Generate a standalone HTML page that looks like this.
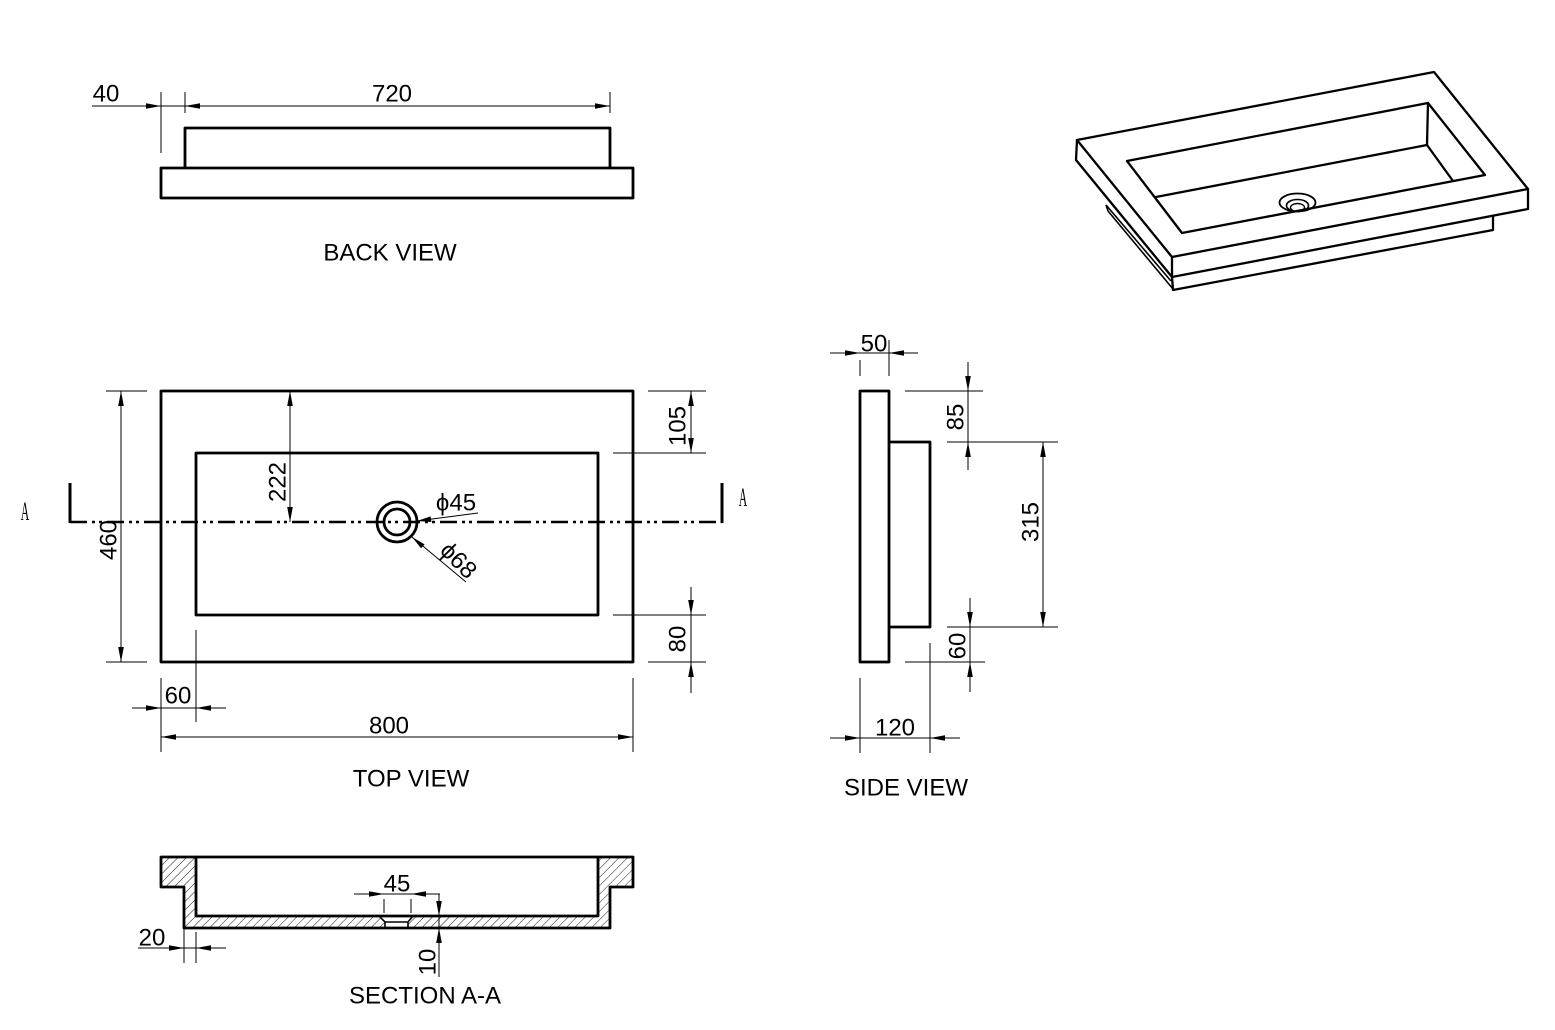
<!DOCTYPE html>
<html>
<head>
<meta charset="utf-8">
<style>
html,body{margin:0;padding:0;background:#fff;}
svg{display:block;}
text{font-family:"Liberation Sans",Arial,sans-serif;fill:#000;}
.t{font-size:24px;}
.k{stroke:#000;stroke-width:2.8;fill:none;stroke-linejoin:round;}
.n{stroke:#000;stroke-width:1;fill:none;}
.i{stroke:#000;stroke-width:2.3;fill:none;stroke-linejoin:round;stroke-linecap:round;}
.a{fill:#000;stroke:none;}
</style>
</head>
<body>
<svg width="1555" height="1030" viewBox="0 0 1555 1030" xmlns="http://www.w3.org/2000/svg">
<defs>
<pattern id="h" patternUnits="userSpaceOnUse" width="6" height="6" patternTransform="rotate(45)">
<line x1="0" y1="0" x2="0" y2="6" stroke="#000" stroke-width="0.9"/>
</pattern>
</defs>
<rect width="1555" height="1030" fill="#fff"/>

<!-- ===== BACK VIEW ===== -->
<path class="k" d="M185 168 V128 H610 V168"/>
<rect class="k" x="161" y="168" width="472" height="30"/>
<line class="n" x1="161" y1="92" x2="161" y2="153"/>
<line class="n" x1="185" y1="92" x2="185" y2="113"/>
<line class="n" x1="610" y1="92" x2="610" y2="113"/>
<line class="n" x1="92" y1="106" x2="610" y2="106"/>
<polygon class="a" points="161,106 146,103.2 146,108.8"/>
<polygon class="a" points="185,106 200,103.2 200,108.8"/>
<polygon class="a" points="610,106 595,103.2 595,108.8"/>
<text class="t" x="106" y="101.5" text-anchor="middle">40</text>
<text class="t" x="392" y="101.5" text-anchor="middle">720</text>
<text class="t" x="390" y="260.5" text-anchor="middle">BACK VIEW</text>

<!-- ===== TOP VIEW ===== -->
<rect class="k" x="161" y="391" width="472" height="271"/>
<rect class="k" x="196" y="453" width="402" height="162"/>
<line x1="70" y1="522" x2="722" y2="522" stroke="#000" stroke-width="2.5" stroke-dasharray="17 5 3 4 3 5"/>
<line x1="70" y1="483" x2="70" y2="523" stroke="#000" stroke-width="3"/>
<line x1="722" y1="483" x2="722" y2="523" stroke="#000" stroke-width="3"/>
<circle class="k" cx="397" cy="522" r="20"/>
<circle class="k" cx="397" cy="522" r="13"/>
<text transform="translate(25,520) scale(0.45 1)" text-anchor="middle" style="font-family:'Liberation Serif',serif;font-size:26px;">A</text>
<text transform="translate(743,506) scale(0.45 1)" text-anchor="middle" style="font-family:'Liberation Serif',serif;font-size:26px;">A</text>

<!-- 460 -->
<line class="n" x1="106" y1="391" x2="147" y2="391"/>
<line class="n" x1="106" y1="662" x2="147" y2="662"/>
<line class="n" x1="121" y1="391" x2="121" y2="662"/>
<polygon class="a" points="121,391 118.2,406 123.8,406"/>
<polygon class="a" points="121,662 118.2,647 123.8,647"/>
<text class="t" x="116.5" y="540" text-anchor="middle" transform="rotate(-90 116.5 540)">460</text>
<!-- 222 -->
<line class="n" x1="290" y1="391" x2="290" y2="522"/>
<polygon class="a" points="290,391 287.2,406 292.8,406"/>
<polygon class="a" points="290,522 287.2,507 292.8,507"/>
<text class="t" x="285.5" y="482" text-anchor="middle" transform="rotate(-90 285.5 482)">222</text>
<!-- 105 -->
<line class="n" x1="648" y1="391" x2="706" y2="391"/>
<line class="n" x1="613" y1="453" x2="706" y2="453"/>
<line class="n" x1="691" y1="391" x2="691" y2="453"/>
<polygon class="a" points="691,391 688.2,406 693.8,406"/>
<polygon class="a" points="691,453 688.2,438 693.8,438"/>
<text class="t" x="685.5" y="426" text-anchor="middle" transform="rotate(-90 685.5 426)">105</text>
<!-- 80 -->
<line class="n" x1="613" y1="615" x2="706" y2="615"/>
<line class="n" x1="648" y1="662" x2="706" y2="662"/>
<line class="n" x1="691" y1="587" x2="691" y2="693"/>
<polygon class="a" points="691,615 688.2,600 693.8,600"/>
<polygon class="a" points="691,662 688.2,677 693.8,677"/>
<text class="t" x="685.5" y="639" text-anchor="middle" transform="rotate(-90 685.5 639)">80</text>
<!-- phi45 -->
<line class="n" x1="478" y1="513" x2="417" y2="521"/>
<polygon class="a" points="417,521 431.4,522 430.6,516.4"/>
<text class="t" x="456" y="510.5" text-anchor="middle">ϕ45</text>
<!-- phi68 -->
<line class="n" x1="466" y1="582" x2="412" y2="537"/>
<polygon class="a" points="412,537 424.6,544.4 421.0,548.3"/>
<text class="t" x="453" y="566" text-anchor="middle" transform="rotate(45 453 566)">ϕ68</text>
<!-- 60 -->
<line class="n" x1="196" y1="630" x2="196" y2="722"/>
<line class="n" x1="161" y1="678" x2="161" y2="752"/>
<line class="n" x1="132" y1="708" x2="226" y2="708"/>
<polygon class="a" points="161,708 146,705.2 146,710.8"/>
<polygon class="a" points="196,708 211,705.2 211,710.8"/>
<text class="t" x="178" y="703.5" text-anchor="middle">60</text>
<!-- 800 -->
<line class="n" x1="633" y1="678" x2="633" y2="752"/>
<line class="n" x1="161" y1="737" x2="633" y2="737"/>
<polygon class="a" points="161,737 176,734.2 176,739.8"/>
<polygon class="a" points="633,737 618,734.2 618,739.8"/>
<text class="t" x="389" y="733.5" text-anchor="middle">800</text>
<text class="t" x="411" y="786.5" text-anchor="middle">TOP VIEW</text>

<!-- ===== SIDE VIEW ===== -->
<rect class="k" x="860" y="391" width="29" height="271"/>
<path class="k" d="M889 442 H930 V627 H889"/>
<!-- 50 -->
<line class="n" x1="860" y1="360" x2="860" y2="376"/>
<line class="n" x1="889" y1="340" x2="889" y2="376"/>
<line class="n" x1="830" y1="353" x2="918" y2="353"/>
<polygon class="a" points="860,353 845,350.2 845,355.8"/>
<polygon class="a" points="889,353 904,350.2 904,355.8"/>
<text class="t" x="874" y="351.5" text-anchor="middle">50</text>
<!-- 85 -->
<line class="n" x1="905" y1="391" x2="983" y2="391"/>
<line class="n" x1="947" y1="442" x2="1058" y2="442"/>
<line class="n" x1="968" y1="362" x2="968" y2="470"/>
<polygon class="a" points="968,391 965.2,376 970.8,376"/>
<polygon class="a" points="968,442 965.2,457 970.8,457"/>
<text class="t" x="963.5" y="417" text-anchor="middle" transform="rotate(-90 963.5 417)">85</text>
<!-- 315 -->
<line class="n" x1="1043" y1="442" x2="1043" y2="627"/>
<polygon class="a" points="1043,442 1040.2,457 1045.8,457"/>
<polygon class="a" points="1043,627 1040.2,612 1045.8,612"/>
<text class="t" x="1038.5" y="522" text-anchor="middle" transform="rotate(-90 1038.5 522)">315</text>
<line class="n" x1="947" y1="627" x2="1058" y2="627"/>
<!-- 60 -->
<line class="n" x1="905" y1="662" x2="985" y2="662"/>
<line class="n" x1="970" y1="598" x2="970" y2="692"/>
<polygon class="a" points="970,627 967.2,612 972.8,612"/>
<polygon class="a" points="970,662 967.2,677 972.8,677"/>
<text class="t" x="965.5" y="646" text-anchor="middle" transform="rotate(-90 965.5 646)">60</text>
<!-- 120 -->
<line class="n" x1="860" y1="678" x2="860" y2="753"/>
<line class="n" x1="930" y1="643" x2="930" y2="753"/>
<line class="n" x1="830" y1="738" x2="960" y2="738"/>
<polygon class="a" points="860,738 845,735.2 845,740.8"/>
<polygon class="a" points="930,738 945,735.2 945,740.8"/>
<text class="t" x="895" y="735.5" text-anchor="middle">120</text>
<text class="t" x="906" y="795.5" text-anchor="middle">SIDE VIEW</text>

<!-- ===== SECTION A-A ===== -->
<path d="M161 857 L196 857 L196 916 L598 916 L598 857 L633 857 L633 887 L610 887 L610 928 L184 928 L184 887 L161 887 Z" fill="url(#h)" stroke="none"/>
<polygon points="379,916 413,916 408,922 408,928 385,928 385,922" fill="#fff" stroke="none"/>
<path class="k" d="M161 857 L196 857 L196 916 L598 916 L598 857 L633 857 L633 887 L610 887 L610 928 L184 928 L184 887 L161 887 Z"/>
<line class="k" x1="196" y1="857" x2="598" y2="857"/>
<path d="M379 916 L385 922 L408 922 L413 916 M385 922 V928 M408 922 V928" stroke="#000" stroke-width="1.6" fill="none"/>
<!-- 45 -->
<line class="n" x1="384" y1="899" x2="384" y2="913"/>
<line class="n" x1="411" y1="899" x2="411" y2="913"/>
<line class="n" x1="354" y1="894" x2="440" y2="894"/>
<polygon class="a" points="384,894 369,891.2 369,896.8"/>
<polygon class="a" points="411,894 426,891.2 426,896.8"/>
<text class="t" x="397" y="891.5" text-anchor="middle">45</text>
<!-- 10 -->
<line class="n" x1="439" y1="894" x2="439" y2="977"/>
<polygon class="a" points="439,916 436.2,901 441.8,901"/>
<polygon class="a" points="439,928 436.2,943 441.8,943"/>
<text class="t" x="435.5" y="962" text-anchor="middle" transform="rotate(-90 435.5 962)">10</text>
<!-- 20 -->
<line class="n" x1="184" y1="928" x2="184" y2="963"/>
<line class="n" x1="196" y1="932" x2="196" y2="963"/>
<line class="n" x1="138" y1="948" x2="226" y2="948"/>
<polygon class="a" points="184,948 169,945.2 169,950.8"/>
<polygon class="a" points="196,948 211,945.2 211,950.8"/>
<text class="t" x="152" y="945.5" text-anchor="middle">20</text>
<text class="t" x="425" y="1003.5" text-anchor="middle">SECTION A-A</text>

<!-- ===== ISOMETRIC ===== -->
<polygon class="i" points="1077,140 1434,72 1528,189 1172,257"/>
<polyline class="i" points="1077,140 1076,160 1172,277 1528,209 1528,189"/>
<line class="i" x1="1172" y1="257" x2="1172" y2="277"/>
<polyline class="i" points="1172,277 1173,290 1493,230 1493,216"/>
<line x1="1106" y1="205" x2="1171" y2="281" stroke="#000" stroke-width="1.6"/>
<line x1="1108" y1="211" x2="1173" y2="289" stroke="#000" stroke-width="1.6"/>
<line x1="1106" y1="205" x2="1108" y2="211" stroke="#000" stroke-width="1.6"/>
<polygon class="i" points="1127,161 1428,103 1485,175 1182,233"/>
<line class="i" x1="1156" y1="197" x2="1427" y2="145"/>
<line class="i" x1="1428" y1="103" x2="1427" y2="145"/>
<line class="i" x1="1427" y1="145" x2="1453" y2="181"/>
<ellipse cx="1297.5" cy="202.5" rx="18" ry="9" stroke="#000" stroke-width="1.8" fill="none"/>
<ellipse cx="1297.5" cy="205.5" rx="11" ry="6" stroke="#000" stroke-width="1.6" fill="none"/>
<ellipse cx="1297.5" cy="207.5" rx="7" ry="4" stroke="#000" stroke-width="1.4" fill="none"/>
</svg>
</body>
</html>
